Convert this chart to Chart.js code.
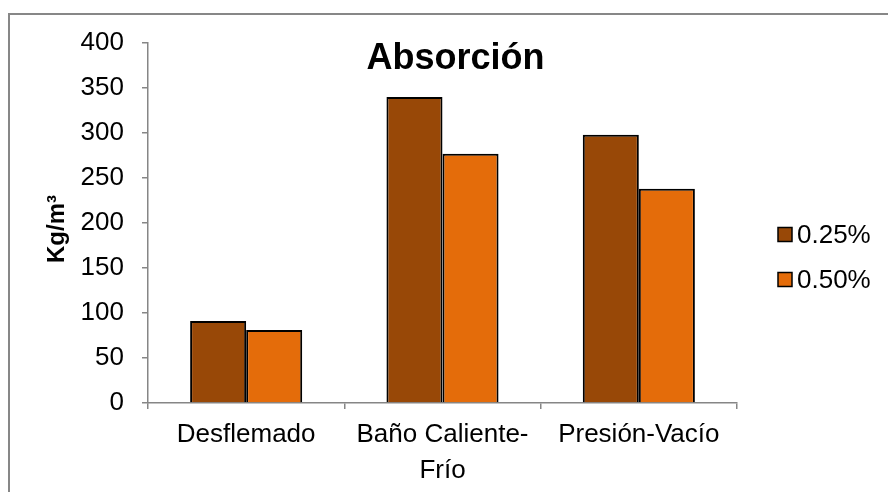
<!DOCTYPE html>
<html>
<head>
<meta charset="utf-8">
<script src="https://cdn.jsdelivr.net/npm/chart.js@4/dist/chart.umd.min.js"></script>
<style>
  html, body { margin: 0; padding: 0; background: #fff; }
  #wrap { width: 888px; height: 492px; position: relative; }
</style>
</head>
<body>
<div id="wrap"><canvas id="c" width="888" height="492"></canvas></div>
<script>
// Absorption per treatment, two concentrations
const categories = ['Desflemado', ['Baño Caliente-', 'Frío'], 'Presión-Vacío'];
const seriesNames = ['0.25%', '0.50%'];
const values025 = [91, 340, 298];
const values050 = [81, 277, 238];
const yTickValues = [0, 50, 100, 150, 200, 250, 300, 350, 400];
const chartTitle = 'Absorción';
const yAxisTitle = 'Kg/m³';

const FONT = '"Liberation Sans", Arial, sans-serif';
const AXIS_GRAY = '#868686';

// Outer frame, title, axis caption and legend
const decorations = {
  id: 'decorations',
  beforeDraw(chart) {
    const ctx = chart.ctx;
    ctx.save();
    ctx.fillStyle = '#fff';
    ctx.fillRect(0, 0, chart.width, chart.height);
    ctx.strokeStyle = '#878787';
    ctx.lineWidth = 2;
    ctx.beginPath();
    ctx.moveTo(888, 14);
    ctx.lineTo(9, 14);
    ctx.lineTo(9, 492);
    ctx.stroke();
    ctx.restore();
  },
  afterDraw(chart) {
    const ctx = chart.ctx;
    ctx.save();
    // title
    ctx.fillStyle = '#000';
    ctx.font = 'bold 36px ' + FONT;
    ctx.textAlign = 'center';
    ctx.textBaseline = 'alphabetic';
    ctx.fillText(chartTitle, 455.5, 69);
    // y axis caption
    ctx.save();
    ctx.translate(57, 229);
    ctx.rotate(-Math.PI / 2);
    ctx.font = 'bold 24px ' + FONT;
    ctx.textBaseline = 'middle';
    ctx.fillText(yAxisTitle, 0, 0);
    ctx.restore();
    // legend
    ctx.font = '26px ' + FONT;
    ctx.textAlign = 'left';
    ctx.textBaseline = 'middle';
    chart.data.datasets.forEach((ds, i) => {
      const cy = 234.5 + i * 45;
      ctx.fillStyle = ds.backgroundColor;
      ctx.fillRect(778, cy - 7, 14, 14);
      ctx.strokeStyle = '#000';
      ctx.lineWidth = 1.5;
      ctx.strokeRect(778, cy - 7, 14, 14);
      ctx.fillStyle = '#000';
      ctx.fillText(ds.label, 797, cy + 1);
    });
    ctx.restore();
  }
};

new Chart(document.getElementById('c'), {
  type: 'bar',
  data: {
    labels: categories,
    datasets: [
      { label: seriesNames[0], data: values025, backgroundColor: '#984807', borderColor: '#000', borderWidth: 2 },
      { label: seriesNames[1], data: values050, backgroundColor: '#E46C0A', borderColor: '#000', borderWidth: 2 }
    ]
  },
  options: {
    responsive: false,
    animation: false,
    devicePixelRatio: 1,
    layout: { padding: { top: 43, right: 151, left: 0, bottom: 0 } },
    datasets: { bar: { categoryPercentage: 0.571, barPercentage: 1 } },
    plugins: {
      legend: { display: false },
      title: { display: false },
      tooltip: { enabled: false }
    },
    scales: {
      x: {
        offset: true,
        grid: { offset: true, drawOnChartArea: false, drawTicks: true, tickLength: 6, color: AXIS_GRAY, lineWidth: 1.5 },
        border: { color: AXIS_GRAY, width: 1.5 },
        ticks: { color: '#000', font: { family: FONT, size: 26, lineHeight: 1.38 }, padding: 8, maxRotation: 0, autoSkip: false },
        afterFit(scale) { scale.height = 89; }
      },
      y: {
        min: 0,
        max: 400,
        afterBuildTicks(scale) { scale.ticks = yTickValues.map(v => ({ value: v })); },
        grid: { drawOnChartArea: false, drawTicks: true, tickLength: 6, color: AXIS_GRAY, lineWidth: 1.5 },
        border: { color: AXIS_GRAY, width: 1.5 },
        ticks: { color: '#000', font: { family: FONT, size: 26 }, padding: 18 },
        afterFit(scale) { scale.width = 148; }
      }
    }
  },
  plugins: [decorations]
});
</script>
</body>
</html>
